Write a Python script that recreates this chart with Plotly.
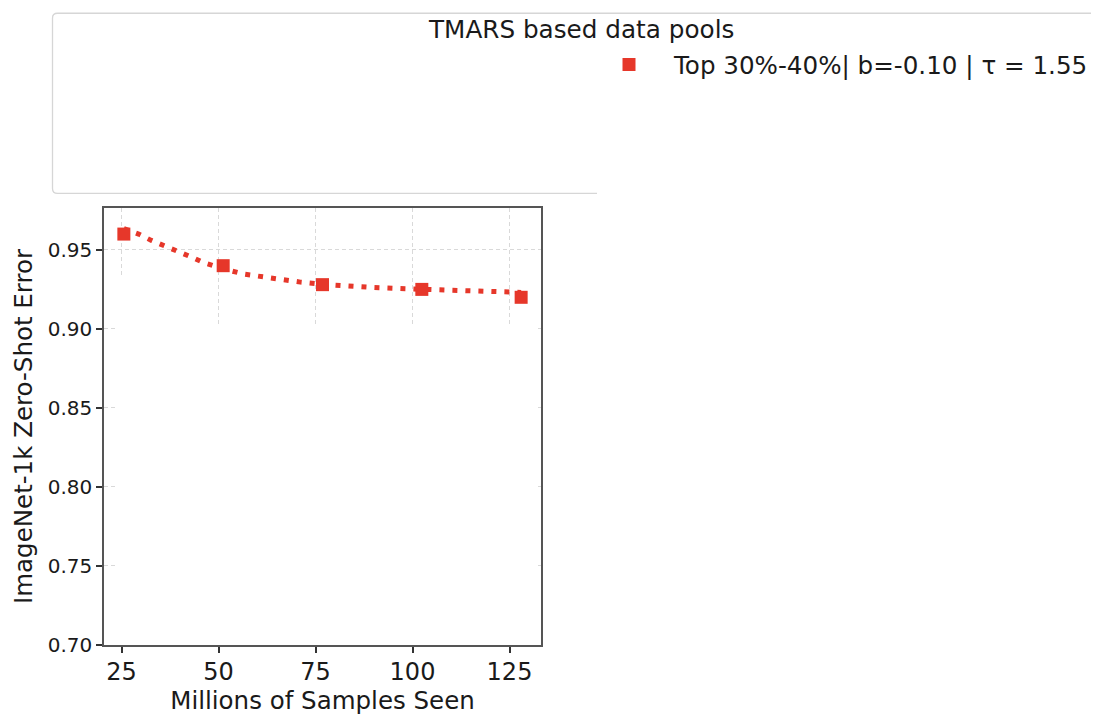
import plotly.graph_objects as go

# ---- data ----
samples_seen = [25.6, 51.2, 76.8, 102.4, 128.0]
zero_shot_error = [0.960, 0.940, 0.928, 0.925, 0.920]

fit_x = [25.6, 29.4, 32.7, 36.3, 39.4, 42.8, 46.1, 51.2, 56.7, 60.3, 64.2,
         67.5, 71.1, 76.8, 82.2, 89.7, 96.9, 102.4, 108.0, 115.2, 122.7, 128.0]
fit_y = [0.9635, 0.9600, 0.9560, 0.9525, 0.9494, 0.9457, 0.9420, 0.9380,
         0.9346, 0.9333, 0.9320, 0.9309, 0.9296, 0.9282, 0.9272, 0.9262,
         0.9255, 0.9250, 0.9246, 0.9241, 0.9236, 0.9231]

x_ticks = [25, 50, 75, 100, 125]
y_ticks = [0.70, 0.75, 0.80, 0.85, 0.90, 0.95]

series_name = "Top 30%-40%| b=-0.10 | τ = 1.55"
legend_title = "TMARS based data pools"
x_title = "Millions of Samples Seen"
y_title = "ImageNet-1k Zero-Shot Error"

RED = "#e6372a"
FONT = "DejaVu Sans"
TXT = "#1a1a1a"

# the page body has an 8px margin on every side: size the figure so that the
# whole page is exactly the 1099x723 window, and shift screen px by 8
OFF = 8
W, H = 1099 - 2 * OFF, 723 - 2 * OFF
L, R, T, B = 104 - OFF, 541 - OFF, 208 - OFF, 655 - OFF  # plot area in figure px


def fx(px):  # screen px -> figure px
    return px - OFF


def px2paper_x(px):
    return (fx(px) - L) / (R - L)


def px2paper_y(py):
    return (B - fx(py)) / (B - T)


fig = go.Figure()

fig.add_trace(go.Scatter(
    x=fit_x, y=fit_y, mode="lines", showlegend=False,
    line=dict(color=RED, width=5, dash="5px,8px"),
    hoverinfo="skip",
))
fig.add_trace(go.Scatter(
    x=samples_seen, y=zero_shot_error, mode="markers", name=series_name,
    marker=dict(symbol="square", size=13, color=RED),
))

xr = [20.48, 133.12]
yr = [0.70, 0.9765]


def px2x(px):
    return xr[0] + (fx(px) - L) / (R - L) * (xr[1] - xr[0])


def py2y(py):
    return yr[0] + (B - fx(py)) / (B - T) * (yr[1] - yr[0])


# white patches that hide part of the grid (as in the reference)
shapes = [
    dict(type="rect", xref="x", yref="y", layer="between",
         x0=px2x(117), x1=px2x(536), y0=yr[0], y1=py2y(327),
         fillcolor="white", line=dict(width=0)),
    dict(type="rect", xref="x", yref="y", layer="between",
         x0=px2x(117), x1=px2x(217), y0=py2y(340), y1=py2y(278),
         fillcolor="white", line=dict(width=0)),
]

# legend frame (clipped at the right edge)
lx, rx = px2paper_x(52.5), px2paper_x(1130)
ty, by = px2paper_y(OFF + 0.8), px2paper_y(193)
bx_end = px2paper_x(597)
dx, dy = 5 / (R - L), 5 / (B - T)
path = (f"M {bx_end},{by} L {lx+dx},{by} Q {lx},{by} {lx},{by+dy} "
        f"L {lx},{ty-dy} Q {lx},{ty} {lx+dx},{ty} L {rx},{ty}")
shapes.append(dict(type="path", xref="paper", yref="paper", path=path,
                   line=dict(color="#d6d6d6", width=1.3), layer="above"))

fig.update_layout(
    width=W, height=H,
    margin=dict(l=L, r=W - R, t=T, b=H - B, pad=0),
    paper_bgcolor="white", plot_bgcolor="white",
    font=dict(family=FONT, color=TXT, size=20),
    shapes=shapes,
    showlegend=True,
    legend=dict(
        xref="container", yref="container",
        x=fx(584) / W, xanchor="left",
        y=1 - fx(42) / H, yanchor="top",
        bgcolor="rgba(0,0,0,0)", borderwidth=0,
        itemwidth=80,
        font=dict(family=FONT, size=24.6, color=TXT),
    ),
    annotations=[dict(
        text=legend_title, xref="paper", yref="paper",
        x=px2paper_x(581), y=px2paper_y(25), xanchor="center", yanchor="middle",
        showarrow=False, font=dict(family=FONT, size=24.7, color=TXT),
    )],
)

fig.update_xaxes(
    range=xr, tickvals=x_ticks, ticktext=[str(v) for v in x_ticks],
    showline=True, mirror=True, linecolor="#555555", linewidth=1.5,
    ticks="outside", ticklen=6, tickwidth=1.5, tickcolor="#333333",
    tickfont=dict(family=FONT, size=24, color=TXT),
    ticklabelstandoff=-2,
    showgrid=True, gridcolor="#d9d9d9", gridwidth=1, griddash="4px,3px",
    zeroline=False,
    title=dict(text=x_title, font=dict(family=FONT, size=24.5, color=TXT), standoff=0),
)
fig.update_yaxes(
    range=yr, tickvals=y_ticks, ticktext=[f"{v:.2f}" for v in y_ticks],
    showline=True, mirror=True, linecolor="#555555", linewidth=1.5,
    ticks="outside", ticklen=6, tickwidth=1.5, tickcolor="#333333",
    tickfont=dict(family=FONT, size=20, color=TXT),
    showgrid=True, gridcolor="#d9d9d9", gridwidth=1, griddash="4px,3px",
    zeroline=False,
    title=dict(text=y_title, font=dict(family=FONT, size=24.5, color=TXT), standoff=8),
)

fig.write_html("out.html")
